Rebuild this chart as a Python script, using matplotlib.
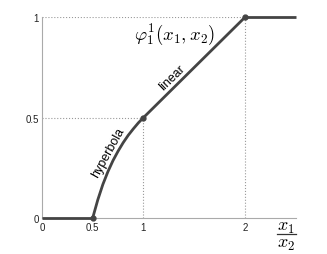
import matplotlib
matplotlib.use("Agg")
import matplotlib.pyplot as plt

plt.rcParams['font.family'] = ['Liberation Sans', 'DejaVu Sans']
plt.rcParams['mathtext.fontset'] = 'cm'

# piecewise curve
flat_x = [0.0, 0.5]
flat_y = [0.0, 0.0]
hyper_x = [0.5, 0.55, 0.6, 0.65, 0.7, 0.75, 0.8, 0.85, 0.9, 0.95, 1.0]
hyper_y = [0.0, 0.09, 0.167, 0.231, 0.286, 0.333, 0.375, 0.412, 0.444, 0.474, 0.5]
lin_x = [1.0, 2.0]
lin_y = [0.5, 1.0]
top_x = [2.0, 2.5]
top_y = [1.0, 1.0]

knot_x = [0.5, 1.0, 2.0]
knot_y = [0.0, 0.5, 1.0]

xticks = [0, 0.5, 1, 2]
xtick_labels = ['0', '0.5', '1', '2']
yticks = [0, 0.5, 1]
ytick_labels = ['0', '0.5', '1']

line_col = '#444444'
guide_col = '#999999'

fig = plt.figure(figsize=(3.27, 2.55), dpi=100)
ax = fig.add_axes([0.128, 0.141, 0.777, 0.788])

# dotted guide lines
for kx, ky in zip(knot_x[1:], knot_y[1:]):
    ax.plot([0, kx], [ky, ky], ls=':', lw=0.8, color=guide_col, zorder=1)
    ax.plot([kx, kx], [0, ky], ls=':', lw=0.8, color=guide_col, zorder=1)

for xs, ys in [(flat_x, flat_y), (hyper_x, hyper_y), (lin_x, lin_y), (top_x, top_y)]:
    ax.plot(xs, ys, color=line_col, lw=2.0, solid_capstyle='butt', clip_on=False, zorder=3)
ax.plot(knot_x, knot_y, 'o', ms=3.5, color=line_col, clip_on=False, zorder=4)

ax.set_xlim(0, 2.5)
ax.set_ylim(0, 1)
ax.set_xticks(xticks)
ax.set_xticklabels(xtick_labels)
ax.set_yticks(yticks)
ax.set_yticklabels(ytick_labels)
ax.tick_params(length=0, labelsize=7, colors='#222222')
ax.tick_params(axis='x', pad=3)
ax.tick_params(axis='y', pad=2)

for side in ['top', 'right']:
    ax.spines[side].set_visible(False)
for side in ['left', 'bottom']:
    ax.spines[side].set_color('#aaaaaa')
    ax.spines[side].set_linewidth(0.8)

ax.text(0.65, 0.33, 'hyperbola', rotation=61, fontsize=9, ha='center', va='center')
ax.text(1.28, 0.70, 'linear', rotation=44, fontsize=9, ha='center', va='center')
ax.text(1.31, 0.92, r'$\varphi_1^1(x_1,x_2)$', fontsize=13.5, ha='center', va='center')

# x label drawn as a tall fraction: x1 over x2
ax.text(2.40, -0.04, r'$x_1$', fontsize=13, ha='center', va='center', clip_on=False)
ax.plot([2.31, 2.50], [-0.077, -0.077], color='#333333', lw=0.9, clip_on=False)
ax.text(2.40, -0.128, r'$x_2$', fontsize=13, ha='center', va='center', clip_on=False)

fig.savefig('out.png', dpi=100)
